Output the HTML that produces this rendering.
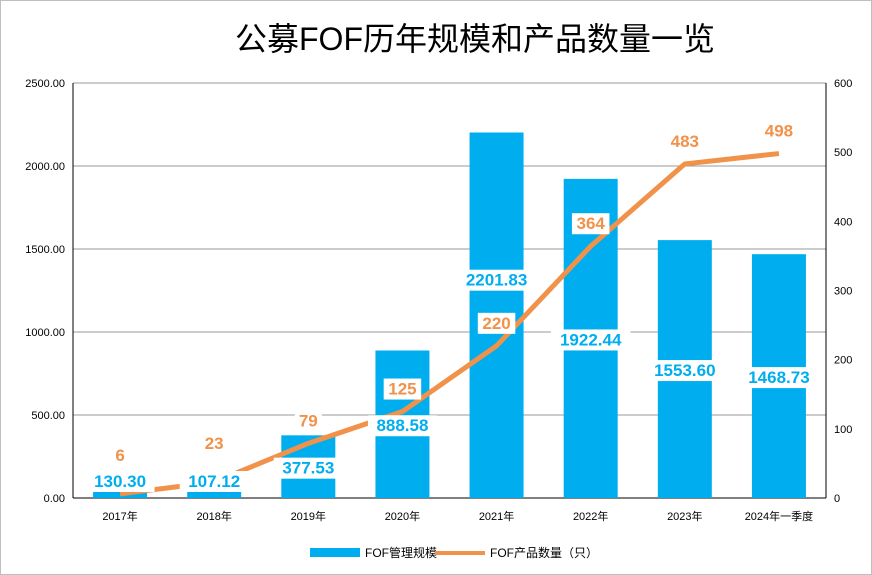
<!DOCTYPE html>
<html><head><meta charset="utf-8"><style>
body{margin:0;background:#fff;}
svg{display:block;font-family:"Liberation Sans","Noto Sans CJK SC",sans-serif;}
</style></head><body>
<svg width="872" height="575" viewBox="0 0 872 575">
<rect x="0.5" y="0.5" width="871" height="574" fill="#fff" stroke="#bfbfbf"/>
<text x="475" y="50" text-anchor="middle" font-size="32" fill="#000">公募FOF历年规模和产品数量一览</text>
<g id="grid"></g><g id="bars"></g><g id="line"></g><g id="labels"></g><g id="axes"></g>
<g>
<rect x="310" y="548" width="50" height="9" fill="#00AEEF"/>
<text x="365" y="557" font-size="12">FOF管理规模</text>
<line x1="435" y1="553" x2="485" y2="553" stroke="#F0924A" stroke-width="4"/>
<text x="490" y="557" font-size="12">FOF产品数量（只）</text>
</g>
</svg>
<script>
const categories=["2017年","2018年","2019年","2020年","2021年","2022年","2023年","2024年一季度"];
const scaleValues=[130.30,107.12,377.53,888.58,2201.83,1922.44,1553.60,1468.73];
const countValues=[6,23,79,125,220,364,483,498];
const leftTicks=[0,500,1000,1500,2000,2500];
const rightTicks=[0,100,200,300,400,500,600];
const NS="http://www.w3.org/2000/svg";
const L=73,R=826,Y0=498,Y1=83;
const step=(R-L)/categories.length;
const xC=i=>L+step*(i+0.5);
const yL=v=>Y0-(v/2500)*(Y0-Y1);
const yR=v=>Y0-(v/600)*(Y0-Y1);
function mk(tag,attrs,parent,txt){const e=document.createElementNS(NS,tag);for(const k in attrs)e.setAttribute(k,attrs[k]);if(txt!==undefined)e.textContent=txt;document.getElementById(parent).appendChild(e);return e;}
leftTicks.forEach(t=>{
 const g=mk("line",{x1:L,x2:R,y1:yL(t),y2:yL(t),stroke:t===0?"#000":"#9a9a9a","stroke-width":1},"grid");
 
 
 const tx=mk("text",{x:65,y:yL(t)+4,"text-anchor":"end","font-size":11},"axes",t.toFixed(2));
 
 
});
rightTicks.forEach(t=>{
 const tx=mk("text",{x:834,y:yR(t)+4,"font-size":11},"axes",String(t));
 
 
});
const la=mk("line",{x1:L,x2:L,y1:Y1,y2:Y0,stroke:"#000"},"axes");


const ra=mk("line",{x1:R,x2:R,y1:Y1,y2:Y0,stroke:"#000"},"axes");


categories.forEach((c,i)=>{
 const tx=mk("text",{x:xC(i),y:520,"text-anchor":"middle","font-size":11},"axes",c);
 
 
 const b=mk("rect",{x:xC(i)-27,y:yL(scaleValues[i]),width:54,height:Y0-yL(scaleValues[i]),fill:"#00AEEF"},"bars");
 
 
});
const pts=countValues.map((v,i)=>xC(i)+","+yR(v)).join(" ");
const pl=mk("polyline",{points:pts,fill:"none",stroke:"#F0924A","stroke-width":5,"stroke-linejoin":"round"},"line");


function label(x,y,txt,color,name){
 const w=txt.length*10.5+6;
 const r=mk("rect",{x:x-w/2,y:y-15,width:w,height:21,fill:"#fff"},"labels");
 
 
 const t=mk("text",{x:x,y:y+1,"text-anchor":"middle","font-size":17,"font-weight":"bold",fill:color},"labels",txt);
 
 
}
scaleValues.forEach((v,i)=>{
 let y=Math.min((yL(v)+Y0)/2,Y0-18);
 if(i===4) y=yL(v*0.6);
 label(xC(i),y+6,v.toFixed(2),"#00AEEF","bar-value-label");
});
countValues.forEach((v,i)=>{
 const off=i<2?40:24;
 label(xC(i),yR(v)-off+6,String(v),"#F0924A","line-value-label");
});
</script>
</body></html>
